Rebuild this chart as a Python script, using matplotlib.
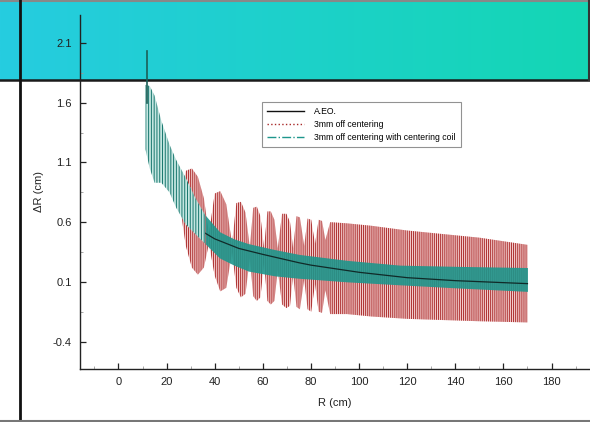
import numpy as np
import matplotlib
matplotlib.use("Agg")
import matplotlib.pyplot as plt
from matplotlib.lines import Line2D
from matplotlib.ticker import MultipleLocator, FixedLocator

plt.rcParams["font.family"] = ["Liberation Sans", "DejaVu Sans"]
plt.rcParams["hatch.linewidth"] = 0.7

# A.EO. reference curve
aeo_r = [12, 15, 20, 25, 30, 35, 40, 50, 60, 75, 80, 100, 120, 140, 170]
aeo_dr = [1.55, 1.30, 1.00, 0.80, 0.63, 0.52, 0.46, 0.38, 0.33, 0.26, 0.24, 0.18, 0.135, 0.11, 0.085]

# 3mm off centering: envelope of the fast oscillation
red_r = [25.8, 28.0, 30.5, 33.0, 35.5, 37.6,
         40.0, 42.3, 44.8, 47.2,
         49.0, 50.9, 52.8, 54.6,
         56.0, 57.5, 59.0, 60.5,
         61.9, 63.3, 64.8, 66.2,
         68.0, 69.8, 71.3, 72.6,
         74.0, 75.4, 77.2,
         78.6, 80.1, 81.7,
         83.2, 84.6, 86.0,
         88, 95, 105, 120, 135, 150, 160, 170]
red_hi = [0.80, 1.03, 1.05, 0.98, 0.80, 0.50,
          0.84, 0.86, 0.75, 0.42,
          0.76, 0.77, 0.68, 0.39,
          0.72, 0.73, 0.65, 0.38,
          0.69, 0.69, 0.62, 0.38,
          0.67, 0.67, 0.60, 0.38,
          0.65, 0.64, 0.40,
          0.63, 0.62, 0.42,
          0.62, 0.61, 0.45,
          0.60, 0.59, 0.57, 0.53, 0.50, 0.47, 0.44, 0.41]
red_lo = [0.70, 0.40, 0.22, 0.16, 0.22, 0.42,
          0.15, 0.02, 0.05, 0.35,
          0.05, -0.03, 0.00, 0.30,
          -0.02, -0.06, -0.03, 0.26,
          -0.06, -0.09, -0.06, 0.20,
          -0.09, -0.12, -0.10, 0.16,
          -0.11, -0.13, 0.12,
          -0.13, -0.15, 0.08,
          -0.15, -0.16, 0.03,
          -0.17, -0.17, -0.19, -0.21, -0.22, -0.23, -0.235, -0.24]

# 3mm off centering with centering coil: envelope
teal_r = [11.2, 13, 15, 17.8, 21.2, 24, 28, 32, 36, 42, 48, 54, 65, 75, 95, 117, 140, 170]
teal_hi = [1.75, 1.74, 1.66, 1.45, 1.25, 1.12, 0.97, 0.80, 0.66, 0.52, 0.46, 0.42, 0.37, 0.33, 0.28, 0.24, 0.23, 0.22]
teal_lo = [1.21, 1.05, 0.93, 0.93, 0.85, 0.72, 0.58, 0.50, 0.42, 0.30, 0.24, 0.19, 0.15, 0.13, 0.10, 0.075, 0.05, 0.02]
spike_r = [12, 12]
spike_dr = [1.60, 2.03]

W, H = 590, 422
fig = plt.figure(figsize=(W / 100, H / 100), dpi=100)

# slide background: gradient banner and frame lines
bg = fig.add_axes([0, 0, 1, 1], zorder=0)
bg.set_xlim(0, W)
bg.set_ylim(H, 0)
bg.set_axis_off()
grad = np.linspace(0, 1, 256)
c0 = np.array([0x26, 0xCC, 0xE0]) / 255
c1 = np.array([0x14, 0xD6, 0xB4]) / 255
img = (c0[None, :] * (1 - grad[:, None]) + c1[None, :] * grad[:, None])[None, :, :]
bg.imshow(img, extent=[0, W, 80, 0], aspect="auto")
bg.plot([0, W], [80, 80], color="#1a1a1a", lw=1.8)
bg.plot([0, W], [1, 1], color="#888888", lw=1.5)
bg.plot([W - 1, W - 1], [0, 80], color="#333333", lw=1.5)
bg.plot([20, 20], [0, H], color="#111111", lw=2)
bg.plot([0, W], [H - 1.5, H - 1.5], color="#777777", lw=1.5)

ax = fig.add_axes([80 / W, 1 - 369 / H, 1 - 80 / W, (369 - 15) / H], zorder=1)
ax.patch.set_alpha(0)

# hatch density: each '|' gives 6 lines per inch
ax.fill_between(red_r, red_lo, red_hi, facecolor="#f2cccc", edgecolor="#ad3030",
                hatch="|" * 8, linewidth=0, zorder=2)
early = [i for i, r in enumerate(teal_r) if r <= 36]
late = [i for i, r in enumerate(teal_r) if r >= 36]
ax.fill_between([teal_r[i] for i in late], [teal_lo[i] for i in late],
                [teal_hi[i] for i in late], color="#1e968c", alpha=0.9,
                linewidth=0, zorder=3)
ax.plot(aeo_r, aeo_dr, color="#102a28", lw=0.9, zorder=4)
ax.fill_between([teal_r[i] for i in early], [teal_lo[i] for i in early],
                [teal_hi[i] for i in early], facecolor="#c4e6e1", edgecolor="#17766d",
                hatch="|" * 6, linewidth=0, zorder=5)
ax.plot(spike_r, spike_dr, color="#1b5f58", lw=1.2, zorder=6)

ax.set_xlim(-16, 196)
ax.set_ylim(-0.63, 2.335)
ax.set_xticks(range(0, 181, 20))
ax.xaxis.set_minor_locator(MultipleLocator(10))
ax.set_yticks([-0.4, 0.1, 0.6, 1.1, 1.6, 2.1])
ax.set_yticklabels(["-0.4", "0.1", "0.6", "1.1", "1.6", "2.1"])
ax.yaxis.set_minor_locator(FixedLocator([-0.15, 0.35, 0.85, 1.35, 1.85]))
for s in ["top", "right"]:
    ax.spines[s].set_visible(False)
for s in ["left", "bottom"]:
    ax.spines[s].set_color("#222222")
    ax.spines[s].set_linewidth(1.0)
ax.tick_params(axis="both", which="major", direction="in", length=4, width=0.9,
               labelsize=8, colors="#222222", pad=6)
ax.tick_params(axis="both", which="minor", direction="in", length=2, width=0.6,
               colors="#999999")
ax.set_xlabel("R (cm)", fontsize=8, color="#222222", labelpad=8)
ax.set_ylabel("ΔR (cm)", fontsize=8, color="#222222", labelpad=6)

handles = [
    Line2D([], [], color="#111111", lw=1.0),
    Line2D([], [], color="#a82828", lw=1.0, ls=":"),
    Line2D([], [], color="#1e968c", lw=1.0, ls="-."),
]
labels = ["A.EO.", "3mm off centering", "3mm off centering with centering coil"]
leg = fig.legend(handles, labels, loc="upper left", bbox_to_anchor=(258 / W, 1 - 98 / H),
                 fontsize=6.2, frameon=True, fancybox=False, handlelength=4.2,
                 labelspacing=0.45, borderpad=0.6, handletextpad=1.2)
leg.get_frame().set_edgecolor("#777777")
leg.get_frame().set_linewidth(0.8)
leg.set_zorder(10)

fig.savefig("out.png", dpi=100)
